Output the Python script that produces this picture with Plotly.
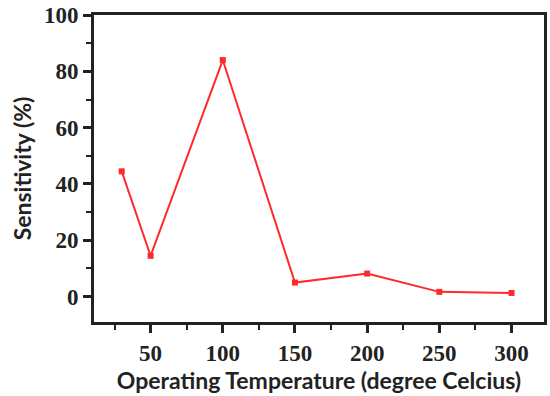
import plotly.graph_objects as go

temperature = [30, 50, 100, 150, 200, 250, 300]
sensitivity = [44.5, 14.5, 84, 5, 8.2, 1.7, 1.3]
x_ticks = [50, 100, 150, 200, 250, 300]
y_ticks = [0, 20, 40, 60, 80, 100]

fig = go.Figure()
fig.add_trace(go.Scatter(
    x=temperature, y=sensitivity, mode="lines+markers",
    line=dict(color="#ff2a2a", width=2),
    marker=dict(symbol="square", size=6, color="#ff2a2a"),
    showlegend=False,
))

tickfont = dict(family="Liberation Serif", size=23, color="#222", weight="bold")
titlefont = dict(family="Lato", size=23, color="#222", weight="bold")

fig.update_xaxes(
    range=[10.8, 322.5], tickvals=x_ticks, ticktext=[str(v) for v in x_ticks],
    ticks="outside", ticklen=8, tickwidth=2.5, tickcolor="#222",
    minor=dict(tickvals=[25, 75, 125, 175, 225, 275], ticks="outside", ticklen=5, tickwidth=2, tickcolor="#222"),
    showline=True, linewidth=3, linecolor="#222", mirror=True,
    showgrid=False, zeroline=False, tickfont=tickfont,
    title=dict(text="Operating Temperature (degree Celcius)", font=titlefont, standoff=5),
)
fig.update_yaxes(
    range=[-9, 100], tickvals=y_ticks, ticktext=[str(v) for v in y_ticks],
    ticks="outside", ticklen=8, tickwidth=2.5, tickcolor="#222",
    minor=dict(tickvals=[10, 30, 50, 70, 90], ticks="outside", ticklen=5, tickwidth=2, tickcolor="#222"),
    showline=True, linewidth=3, linecolor="#222", mirror=True,
    showgrid=False, zeroline=False, tickfont=tickfont,
    title=dict(text="Sensitivity (%)", font=titlefont, standoff=6),
)
fig.update_layout(
    width=550, height=396,
    margin=dict(l=94, r=3, t=15, b=74),
    plot_bgcolor="white", paper_bgcolor="white",
)
fig.write_html("out.html")
